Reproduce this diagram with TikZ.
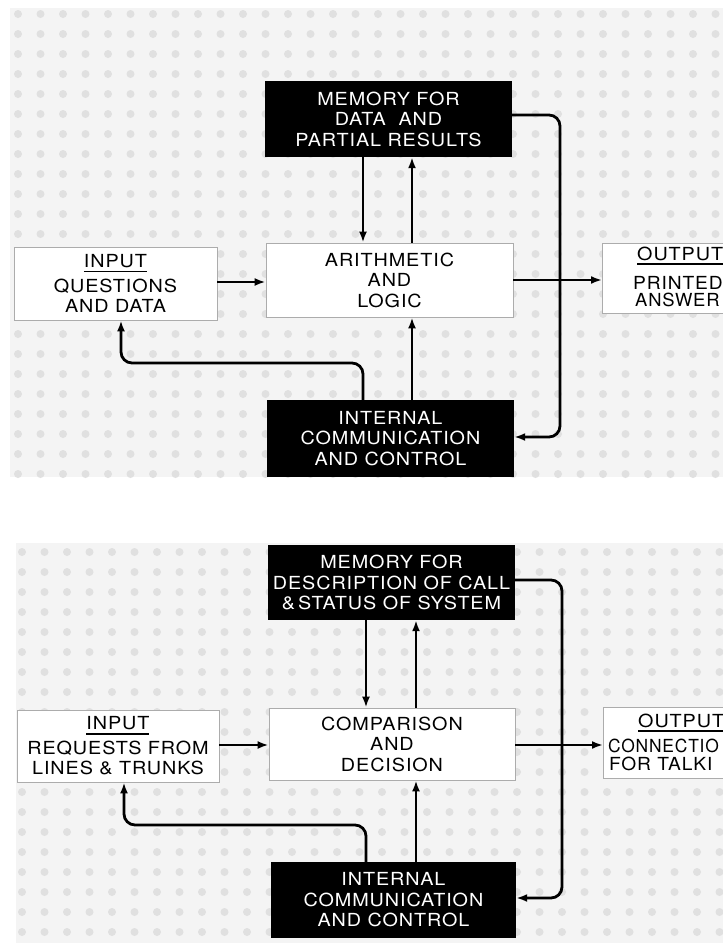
\documentclass[tikz,border=0pt]{standalone}
\usepackage{fontspec}
\usepackage{graphicx}
\setmainfont[FakeStretch=1.1,LetterSpace=5]{TeX Gyre Heros}
\usetikzlibrary{arrows.meta,calc}
\newcommand\myul[1]{\vtop{\hbox{#1}\kern3pt\hrule height1.6pt}}
\begin{document}
\begin{tikzpicture}[x=1pt,y=-1pt,
  lbl/.style={font=\fontsize{18}{20.5}\selectfont},
  whitebox/.style={lbl,draw=gray!65,line width=0.8pt,fill=white,align=center,inner sep=1pt},
  blackbox/.style={lbl,fill=black,text=white,align=center,inner sep=1pt},
  txt/.style={lbl,inner sep=0pt,anchor=base west},
  conn/.style={line width=2.8pt,-{Latex[length=11pt,width=8pt]}},
  feed/.style={conn,rounded corners=11pt},
  panel/.style={fill=gray!9},
  dotc/.style={fill=gray!24}]
\useasboundingbox (0,0) rectangle (723,943);
\clip (0,0) rectangle (723,943);
\fill[white] (0,0) rectangle (723,943);
% background halftone panels
\fill[panel] (10,8) rectangle (723,477);
\fill[panel] (16,543) rectangle (723,943);
\foreach \i in {0,...,31}{
  \foreach \j in {0,...,23}{
    \fill[dotc] (18+\i*22.5,14+\j*20) circle (4pt);
  }
  \foreach \j in {0,...,19}{
    \fill[dotc] (22+\i*22.5,552+\j*20) circle (4pt);
  }
}

% ---------------- top diagram ----------------
\node[blackbox,minimum width=247pt,minimum height=76pt] (mem1) at (388.5,119) {MEMORY FOR\\DATA\ \ AND\\PARTIAL RESULTS};
\node[whitebox,minimum width=203pt,minimum height=73pt] (in1) at (115.5,283.5) {\myul{INPUT}\\[4pt]QUESTIONS\\AND DATA};
\node[whitebox,minimum width=247pt,minimum height=74pt] (ar1) at (389.5,280) {ARITHMETIC\\AND\\LOGIC};
\node[whitebox,minimum width=160pt,minimum height=70pt,anchor=west] (out1) at (602,278) {};
\node[txt] (o1a) at (637,260) {\myul{OUTPUT}};
\node[txt] (o1b) at (633,289.5) {\scalebox{0.97}[1]{PRINTED}};
\node[txt] (o1c) at (635,306) {\scalebox{0.93}[1]{ANSWER}};
\node[blackbox,minimum width=247pt,minimum height=77pt] (ic1) at (390.5,438.5) {INTERNAL\\COMMUNICATION\\AND CONTROL};

\coordinate (d1) at (363,0);
\coordinate (u1) at (412,0);
\coordinate (h1) at (0,282);
\coordinate (h1b) at (0,280);
\coordinate (r1) at (560,280);
\coordinate (fb1) at (121,363);

\draw[conn] (mem1.south -| d1) -- (ar1.north -| d1);
\draw[conn] (ar1.north -| u1) -- (mem1.south -| u1);
\draw[conn] (ic1.north -| u1) -- (ar1.south -| u1);
\draw[conn] (in1.east |- h1) -- (ar1.west |- h1);
\draw[conn] (ar1.east |- h1b) -- (out1.west |- h1b);
\draw[feed] ([yshift=4pt]mem1.east) -| (r1) |- ([yshift=1.5pt]ic1.east);
\draw[feed] (ic1.north -| d1) |- (fb1) -- (in1.south -| fb1);

% ---------------- bottom diagram ----------------
\node[blackbox,minimum width=247pt,minimum height=75pt] (mem2) at (391.5,582.5) {MEMORY FOR\\DESCRIPTION OF CALL\\\&\,STATUS OF SYSTEM};
\node[whitebox,minimum width=202pt,minimum height=72pt] (in2) at (118,746) {\myul{INPUT}\\[4pt]REQUESTS FROM\\LINES \& TRUNKS};
\node[whitebox,minimum width=246pt,minimum height=72pt] (cd2) at (392,744) {COMPARISON\\AND\\DECISION};
\node[whitebox,minimum width=160pt,minimum height=71pt,anchor=west] (out2) at (603,742.5) {};
\node[txt] (o2a) at (638,727) {\myul{OUTPUT}};
\node[txt] (o2b) at (608,752) {\scalebox{0.88}[1]{CONNECTIO}};
\node[txt] (o2c) at (609,770) {\scalebox{0.97}[1]{FOR TALKI}};
\node[blackbox,minimum width=245pt,minimum height=76pt] (ic2) at (393.5,900) {INTERNAL\\COMMUNICATION\\AND CONTROL};

\coordinate (d2) at (366,0);
\coordinate (u2) at (416,0);
\coordinate (h2) at (0,745);
\coordinate (r2) at (562,740);
\coordinate (fb2) at (124,825);

\draw[conn] (mem2.south -| d2) -- (cd2.north -| d2);
\draw[conn] (cd2.north -| u2) -- (mem2.south -| u2);
\draw[conn] (ic2.north -| u2) -- (cd2.south -| u2);
\draw[conn] (in2.east |- h2) -- (cd2.west |- h2);
\draw[conn] (cd2.east |- h2) -- (out2.west |- h2);
\draw[feed] ([yshift=2.5pt]mem2.east) -| (r2) |- ([yshift=2pt]ic2.east);
\draw[feed] (ic2.north -| d2) |- (fb2) -- (in2.south -| fb2);
\end{tikzpicture}
\end{document}
